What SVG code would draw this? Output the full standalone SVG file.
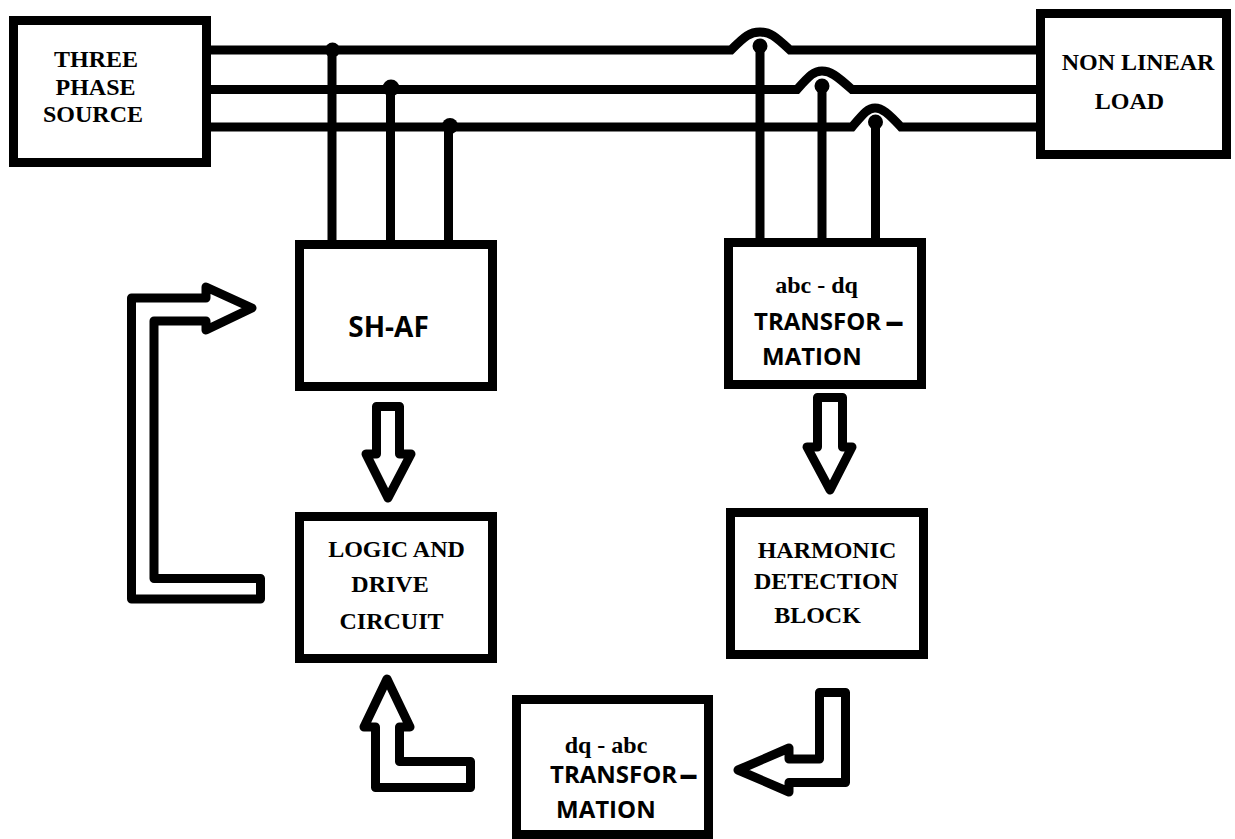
<svg xmlns="http://www.w3.org/2000/svg" width="1235" height="839" viewBox="0 0 1235 839">
<style>
.box{fill:#fff;stroke:#000;stroke-width:9}
.wire{fill:none;stroke:#000;stroke-width:9}
.arr{fill:#fff;stroke:#000;stroke-width:9;stroke-linejoin:round}
.serif{font-family:"Liberation Serif","Times New Roman",serif;font-weight:bold;font-size:24px;fill:#000}
.sans{font-family:"Open Sans","DejaVu Sans",sans-serif;font-weight:bold;font-size:24px;fill:#000}
.mid{text-anchor:middle}
.big{font-size:28px}
.dash{font-size:38px}
</style>
<rect width="1235" height="839" fill="#fff"/>
<g id="connectors">
  <path class="wire" d="M211 50 H731 C745 36 750 32 760 32 C770 32 775 36 790 50 H1036"/>
  <path class="wire" d="M211 89.5 H797 C810 75 814 71 822 71 C830 71 836 75 852 89.5 H1036"/>
  <path class="wire" d="M211 127 H852 C864 113 868 108 875 108 C882 108 888 113 901 127 H1036"/>
  <line class="wire" x1="332" y1="50" x2="332" y2="241"/>
  <line class="wire" x1="390.5" y1="88" x2="390.5" y2="241"/>
  <line class="wire" x1="448.5" y1="126" x2="448.5" y2="241"/>
  <line class="wire" x1="760" y1="47" x2="760" y2="239"/>
  <line class="wire" x1="822" y1="87" x2="822" y2="239"/>
  <line class="wire" x1="875.5" y1="123" x2="875.5" y2="239"/>
  <circle cx="332.5" cy="50" r="7.5"/>
  <circle cx="391" cy="88" r="8.5"/>
  <circle cx="450" cy="126" r="8"/>
  <circle cx="760" cy="46" r="7.5"/>
  <circle cx="822" cy="86" r="7.5"/>
  <circle cx="875.5" cy="122" r="7.5"/>
  <path class="arr" d="M376.5 406.5 H399.5 V454 H411 L388 498 L366 454 H376.5 Z"/>
  <path class="arr" d="M817.5 397.5 H842.5 V447 H852 L830 490 L807 447 H817.5 Z"/>
  <path class="arr" d="M399.5 727 V761.5 H470.5 V787.5 H375.5 V727 H364 L387 679 L410 727 Z"/>
  <path class="arr" d="M819.5 692.5 H845.5 V782.5 H789 V792 L738 770 L789 748 V759 H819.5 Z"/>
  <path class="arr" d="M131.5 298 H206 V287 L252 308 L206 330 V321 H154 V578.5 H260.5 V599 H131.5 Z"/>
</g>
<g id="source">
  <rect class="box" x="13.5" y="20.5" width="193" height="142"/>
  <text class="serif mid" x="96" y="67">THREE</text>
  <text class="serif mid" x="95.5" y="95">PHASE</text>
  <text class="serif mid" x="93" y="122">SOURCE</text>
</g>
<g id="load">
  <rect class="box" x="1040.5" y="13.5" width="186" height="141"/>
  <text class="serif mid" x="1138" y="70">NON LINEAR</text>
  <text class="serif mid" x="1129.5" y="109">LOAD</text>
</g>
<g id="shaf">
  <rect class="box" x="299.5" y="244.5" width="193" height="142"/>
  <text class="sans mid big" x="388.5" y="337">SH-AF</text>
</g>
<g id="abcdq">
  <rect class="box" x="728.5" y="242.5" width="193" height="142"/>
  <text class="serif mid" x="816.5" y="293">abc - dq</text>
  <text class="sans" x="754" y="330">TRANSFOR<tspan class="dash" x="885" y="334">–</tspan></text>
  <text class="sans" x="762" y="365">MATION</text>
</g>
<g id="logic">
  <rect class="box" x="299.5" y="516.5" width="193" height="142"/>
  <text class="serif mid" x="396.5" y="557">LOGIC AND</text>
  <text class="serif mid" x="390" y="592">DRIVE</text>
  <text class="serif mid" x="391.5" y="629">CIRCUIT</text>
</g>
<g id="harmonic">
  <rect class="box" x="730.5" y="512.5" width="193" height="142"/>
  <text class="serif mid" x="827" y="558">HARMONIC</text>
  <text class="serif mid" x="826" y="589">DETECTION</text>
  <text class="serif mid" x="817.5" y="623">BLOCK</text>
</g>
<g id="dqabc">
  <rect class="box" x="516.5" y="699.5" width="192" height="135"/>
  <text class="serif mid" x="606" y="753">dq - abc</text>
  <text class="sans" x="550" y="783">TRANSFOR<tspan class="dash" x="679" y="787">–</tspan></text>
  <text class="sans" x="556" y="818">MATION</text>
</g>
</svg>
